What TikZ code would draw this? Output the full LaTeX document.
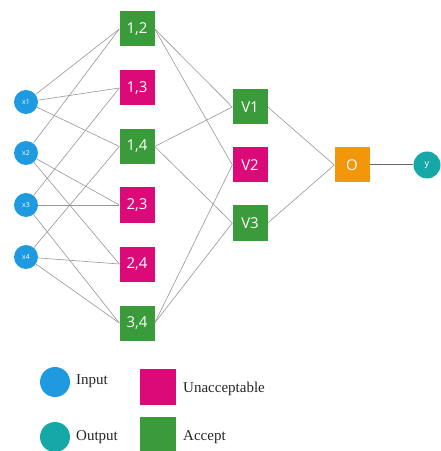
\documentclass[tikz,border=0pt]{standalone}
\usepackage{fontspec}
\setmainfont{Liberation Serif}
\newfontfamily\nodefont{Open Sans}
\definecolor{inblue}{RGB}{30,155,224}
\definecolor{outteal}{RGB}{22,168,166}
\definecolor{unacc}{RGB}{220,10,120}
\definecolor{acc}{RGB}{58,155,58}
\definecolor{orng}{RGB}{242,150,10}
\definecolor{wire}{RGB}{150,150,150}
\tikzset{
  sq/.style={rectangle, minimum width=35bp, minimum height=35bp, inner sep=0pt, text=white, font=\nodefont\fontsize{15bp}{15bp}\selectfont},
  accbox/.style={sq, fill=acc},
  unbox/.style={sq, fill=unacc},
  outbox/.style={sq, fill=orng},
  incirc/.style={circle, fill=inblue, minimum size=24bp, inner sep=0pt, text=white, font=\nodefont\fontsize{7bp}{7bp}\selectfont},
  outcirc/.style={circle, fill=outteal, minimum size=27bp, inner sep=0pt, text=white, font=\nodefont\fontsize{9bp}{9bp}\selectfont},
  wireline/.style={draw=wire, line width=0.6bp},
  legtext/.style={anchor=west, inner sep=0pt, font=\fontsize{15bp}{15bp}\selectfont, text=black!85}
}
\begin{document}
\begin{tikzpicture}[x=1bp,y=-1bp]
\useasboundingbox (0,0) rectangle (441,451);
% inputs
\node[incirc] (x1) at (26,102) {x1};
\node[incirc] (x2) at (26,153) {x2};
\node[incirc] (x3) at (26,205) {x3};
\node[incirc] (x4) at (26,257) {x4};
% hidden
\node[accbox] (h12) at (137,29) {1,2};
\node[unbox]  (h13) at (137,88) {1,3};
\node[accbox] (h14) at (137,146.5) {1,4};
\node[unbox]  (h23) at (137,205) {2,3};
\node[unbox]  (h24) at (137,264) {2,4};
\node[accbox] (h34) at (137,323) {3,4};
% second layer
\node[accbox] (v1) at (250,107) {V1};
\node[unbox]  (v2) at (250,165) {V2};
\node[accbox] (v3) at (250,223) {V3};
% output
\node[outbox] (o) at (352,165) {O};
\node[outcirc] (y) at (427,165) {y};
% connections inputs -> hidden
\begin{scope}[on background layer/.style={}]
\foreach \a/\b in {x1/h12,x2/h12,x1/h13,x3/h13,x1/h14,x4/h14,x2/h23,x3/h23,x2/h24,x4/h24,x3/h34,x4/h34}
  \path[wireline] (\a) -- (\b.west);
\foreach \a/\b in {h12/v1,h14/v1,h12/v2,h34/v2,h14/v3,h34/v3}
  \path[wireline] (\a.east) -- (\b.west);
\path[wireline] (v1.east) -- (o.west);
\path[wireline] (v3.east) -- (o.west);
\path[draw=black!60, line width=1bp] (o) -- (y);
\end{scope}
% legend
\node[incirc, minimum size=30bp] (lin) at (55,382) {};
\node[legtext] (tin) at (76,381) {Input};
\node[outcirc, minimum size=30bp] (lout) at (55,437) {};
\node[legtext] (tout) at (76,437) {Output};
\node[unbox, minimum size=36bp] (lun) at (158,387) {};
\node[legtext] (tun) at (183,389) {Unacceptable};
\node[accbox, minimum size=36bp] (lacc) at (158,435) {};
\node[legtext] (tacc) at (183,437) {Accept};
\end{tikzpicture}
\end{document}
